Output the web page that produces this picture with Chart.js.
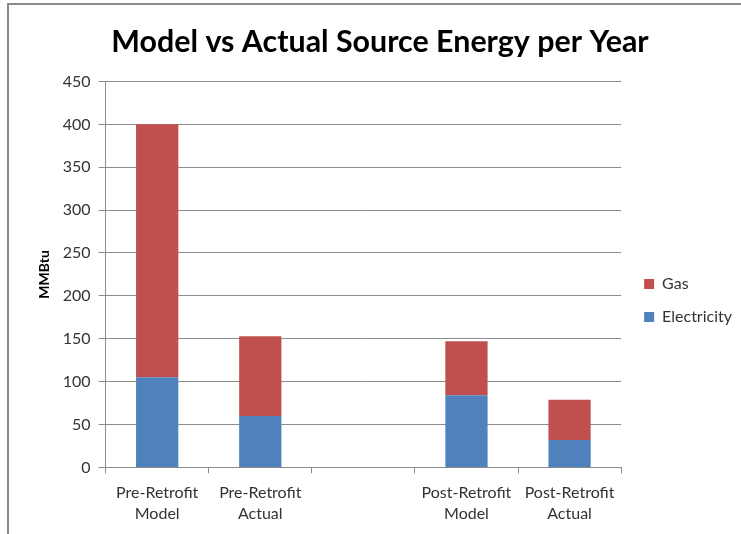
<!DOCTYPE html>
<html>
<head>
<meta charset="utf-8">
<script src="https://cdn.jsdelivr.net/npm/chart.js@4/dist/chart.umd.min.js"></script>
<style>
  body { margin: 0; background: #fff; }
  #wrap { position: relative; width: 741px; height: 534px; }
  #frame { position: absolute; left: 7px; top: 3px; width: 800px; height: 600px;
           border-top: 2px solid #8a8a8a; border-left: 2px solid #8a8a8a; }
  #energyChart { position: absolute; left: 0; top: 0; }
</style>
</head>
<body>
<div id="wrap">
  <div id="frame"></div>
  <canvas id="energyChart" width="741" height="534"></canvas>
</div>
<script>
// Categorias (la tercera va vacia, como en el original)
const categories = [
  ["Pre-Retrofit", "Model"],
  ["Pre-Retrofit", "Actual"],
  "",
  ["Post-Retrofit", "Model"],
  ["Post-Retrofit", "Actual"],
];

// Valores en MMBtu
const electricity = [105, 60, null, 84, 32];
const gas = [295, 93, null, 63, 47];

const yTicks = [0, 50, 100, 150, 200, 250, 300, 350, 400, 450];

const fontFamily = 'Lato, "Open Sans", sans-serif';
const gridColor = "#8c8c8c";

// corre la leyenda a la derecha y el titulo a la izquierda, como en el original
const layoutNudge = {
  id: 'layoutNudge',
  afterLayout(chart) {
    if (chart.legend) {
      chart.legend.left += 6;
      chart.legend.right += 6;
    }
    if (chart.titleBlock) {
      chart.titleBlock.left -= 6;
      chart.titleBlock.right -= 6;
    }
  },
};

var ctx = document.getElementById('energyChart').getContext('2d');

var energyChart = new Chart(ctx, {
  type: 'bar',
  plugins: [layoutNudge],
  data: {
    labels: categories,
    datasets: [
      {
        label: "Electricity",
        data: electricity,
        backgroundColor: "#4f81bd",
        barPercentage: 0.41,
        categoryPercentage: 1,
      },
      {
        label: "Gas",
        data: gas,
        backgroundColor: "#c0504d",
        barPercentage: 0.41,
        categoryPercentage: 1,
      },
    ],
  },
  options: {
    responsive: false,
    animation: false,
    layout: {
      padding: { left: 36, right: 5, top: 10, bottom: 1 },
    },
    scales: {
      x: {
        stacked: true,
        grid: {
          drawOnChartArea: false,
          color: gridColor,
          tickLength: 6,
          offset: true,
        },
        border: { color: gridColor, width: 1 },
        ticks: {
          color: "#333",
          maxRotation: 0,
          autoSkip: false,
          padding: 9,
          font: { family: fontFamily, size: 16, lineHeight: 1.3 },
        },
      },
      y: {
        stacked: true,
        min: 0,
        max: 450,
        afterBuildTicks: (axis) => {
          axis.ticks = yTicks.map((v) => ({ value: v }));
        },
        grid: {
          color: gridColor,
          tickLength: 7,
        },
        border: { color: gridColor, width: 1 },
        ticks: {
          color: "#333",
          padding: 8,
          font: { family: fontFamily, size: 16 },
        },
        title: {
          display: true,
          text: "MMBtu",
          color: "#000",
          font: { family: fontFamily, size: 14, weight: "bold" },
          padding: { top: 0, bottom: 2 },
        },
      },
    },
    plugins: {
      title: {
        display: true,
        text: "Model vs Actual Source Energy per Year",
        color: "#000",
        padding: { top: 14, bottom: 21 },
        font: { family: fontFamily, size: 30.4, weight: "bold" },
      },
      legend: {
        position: "right",
        reverse: true,
        title: {
          display: true,
          text: " ",
          font: { size: 10 },
          padding: { top: 46, bottom: 0 },
        },
        labels: {
          color: "#333",
          boxWidth: 10,
          boxHeight: 10,
          padding: 17,
          font: { family: fontFamily, size: 16 },
        },
      },
      tooltip: { enabled: false },
    },
  },
});
</script>
</body>
</html>
